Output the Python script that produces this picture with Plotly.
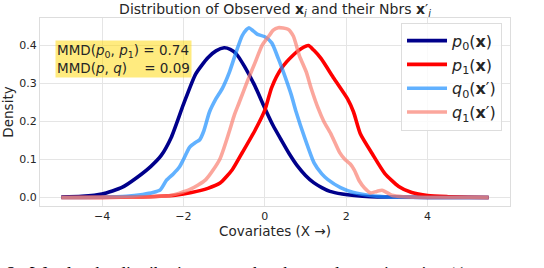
import plotly.graph_objects as go

# ---- data ----
p0_x = [-5.0, -4.5, -4.0, -3.5, -3.15, -2.8, -2.55, -2.3, -2.0, -1.7, -1.4, -1.2, -1.0, -0.85, -0.7, -0.5,
        -0.25, 0.0, 0.2, 0.4, 0.6, 0.8, 1.0, 1.2, 1.4, 1.6, 1.9, 2.2, 2.6, 3.2, 4.0, 5.5]
p0_y = [0.001, 0.003, 0.009, 0.027, 0.052, 0.082, 0.11, 0.158, 0.245, 0.325, 0.368, 0.386, 0.394, 0.39, 0.378, 0.345,
        0.295, 0.235, 0.19, 0.152, 0.115, 0.083, 0.058, 0.039, 0.026, 0.016, 0.009, 0.005, 0.002, 0.001, 0.0003, 0.0]

p1_x = [-5.0, -4.0, -3.0, -2.6, -2.2, -1.8, -1.4, -1.1, -0.8, -0.56, -0.24, 0.0, 0.17, 0.41, 0.7, 0.9, 1.07,
        1.2, 1.38, 1.7, 2.03, 2.18, 2.35, 2.64, 2.95, 3.29, 3.61, 4.0, 4.5, 5.0, 5.5]
p1_y = [0.0, 0.0002, 0.001, 0.003, 0.006, 0.013, 0.024, 0.038, 0.073, 0.117, 0.177, 0.23, 0.29, 0.34, 0.375, 0.392, 0.40,
        0.388, 0.366, 0.313, 0.26, 0.225, 0.167, 0.115, 0.063, 0.029, 0.013, 0.005, 0.002, 0.0005, 0.0]

q0_x = [-5.0, -4.0, -3.4, -3.0, -2.75, -2.57, -2.42, -2.25, -2.1, -2.0, -1.85, -1.7, -1.6, -1.5, -1.36, -1.2,
        -1.04, -0.87, -0.72, -0.56, -0.45, -0.39, -0.3, -0.19, 0.0, 0.17, 0.33, 0.49, 0.65, 0.77, 0.97, 1.21,
        1.4, 1.55, 1.86, 2.18, 2.59, 3.07, 4.0, 5.5]
q0_y = [0.0, 0.0005, 0.003, 0.008, 0.013, 0.02, 0.045, 0.062, 0.08, 0.1, 0.132, 0.145, 0.152, 0.175, 0.225, 0.26,
        0.288, 0.33, 0.378, 0.425, 0.442, 0.447, 0.44, 0.43, 0.423, 0.407, 0.366, 0.32, 0.27, 0.225, 0.16, 0.091,
        0.062, 0.047, 0.026, 0.013, 0.005, 0.001, 0.0, 0.0]

q1_x = [-5.0, -4.0, -3.0, -2.33, -1.84, -1.45, -1.11, -0.87, -0.75, -0.63, -0.44, -0.24, -0.07, 0.1, 0.2, 0.33,
        0.57, 0.7, 0.85, 1.02, 1.14, 1.31, 1.45, 1.62, 1.84, 1.97, 2.1, 2.2, 2.32, 2.45, 2.6, 2.75, 2.88, 3.0,
        3.12, 3.4, 4.0, 5.5]
q1_y = [0.0, 0.0003, 0.001, 0.005, 0.021, 0.047, 0.1, 0.175, 0.217, 0.25, 0.303, 0.355, 0.4, 0.425, 0.44, 0.447,
        0.443, 0.425, 0.373, 0.33, 0.287, 0.235, 0.2, 0.168, 0.118, 0.1, 0.088, 0.072, 0.044, 0.025, 0.012, 0.016,
        0.019, 0.013, 0.006, 0.002, 0.0, 0.0]

series_names = ["<i>p</i><sub>0</sub>(<b>x</b>)", "<i>p</i><sub>1</sub>(<b>x</b>)",
                "<i>q</i><sub>0</sub>(<b>x</b>′)", "<i>q</i><sub>1</sub>(<b>x</b>′)"]
x_ticks = [-4, -2, 0, 2, 4]
y_ticks = [0.0, 0.1, 0.2, 0.3, 0.4]
mmd_p0_p1 = 0.74
mmd_p_q = 0.09

colors = ["#00008b", "#ff0000", "rgba(30,144,255,0.7)", "rgba(250,128,114,0.7)"]

fig = go.Figure()
for xs, ys, name, col in zip([p0_x, p1_x, q0_x, q1_x], [p0_y, p1_y, q0_y, q1_y], series_names, colors):
    fig.add_trace(go.Scatter(x=xs, y=ys, mode="lines", name=name,
                             line=dict(color=col, width=3.6, shape="spline", smoothing=0.6)))

font_family = "DejaVu Sans"
fig.update_layout(
    width=544, height=268,
    margin=dict(l=40, r=34, t=18, b=62, autoexpand=False),
    paper_bgcolor="white", plot_bgcolor="white",
    font=dict(family=font_family, color="#262626"),
    title=dict(text="Distribution of Observed <b>x</b><sub><i>i</i></sub> and their Nbrs <b>x</b>′<sub><i>i</i></sub>",
               x=0.5, xref="paper", xanchor="center", y=0.965, yanchor="middle", automargin=False,
               font=dict(size=14, family=font_family, color="#262626")),
    legend=dict(x=0.983, y=0.975, xanchor="right", yanchor="top",
                bgcolor="rgba(255,255,255,0.8)", bordercolor="#dddddd", borderwidth=1,
                font=dict(size=16, family=font_family, color="#262626"),
                itemwidth=40, tracegroupgap=0),
    showlegend=True,
)
fig.update_xaxes(range=[-5.525, 6.025], tickvals=x_ticks, showgrid=True, gridcolor="#e5e5e5", gridwidth=1,
                 showline=True, linecolor="#dddddd", mirror=True, zeroline=False, ticks="", automargin=False,
                 tickfont=dict(size=11, color="#262626"),
                 title=dict(text="Covariates (X \u2192)", font=dict(size=13.5, color="#262626"), standoff=4))
fig.update_yaxes(range=[-0.0225, 0.4725], tickvals=y_ticks, tickformat=".1f", showgrid=True, gridcolor="#e5e5e5",
                 gridwidth=1, showline=True, linecolor="#dddddd", mirror=True, zeroline=False, ticks="",
                 automargin=False,
                 tickfont=dict(size=11, color="#262626"),
                 title=dict(text="Density", font=dict(size=13.5, color="#262626"), standoff=6))

fig.add_annotation(
    xref="paper", yref="paper", x=0.032, y=0.885, xanchor="left", yanchor="top",
    text=(f"MMD(<i>p</i><sub>0</sub>, <i>p</i><sub>1</sub>) = {mmd_p0_p1:.2f}<br>"
          f"MMD(<i>p</i>, <i>q</i>)\u00a0\u00a0\u00a0\u00a0= {mmd_p_q:.2f}"),
    align="left", showarrow=False, bgcolor="rgba(255,215,0,0.5)", borderpad=1,
    font=dict(size=13.5, family=font_family, color="#262626"))

fig.add_annotation(
    xref="paper", yref="paper", x=-0.0745, y=-0.298, xanchor="left", yanchor="top",
    text="2:\u00a0\u00a0We plot the distributions over the observed covariates in \U0001D4A9(",
    align="left", showarrow=False,
    font=dict(size=18, family="Liberation Serif", color="black"))

fig.write_html("out.html", config={"displayModeBar": False},
               post_script="document.body.style.margin='0';document.body.style.overflow='hidden';")
